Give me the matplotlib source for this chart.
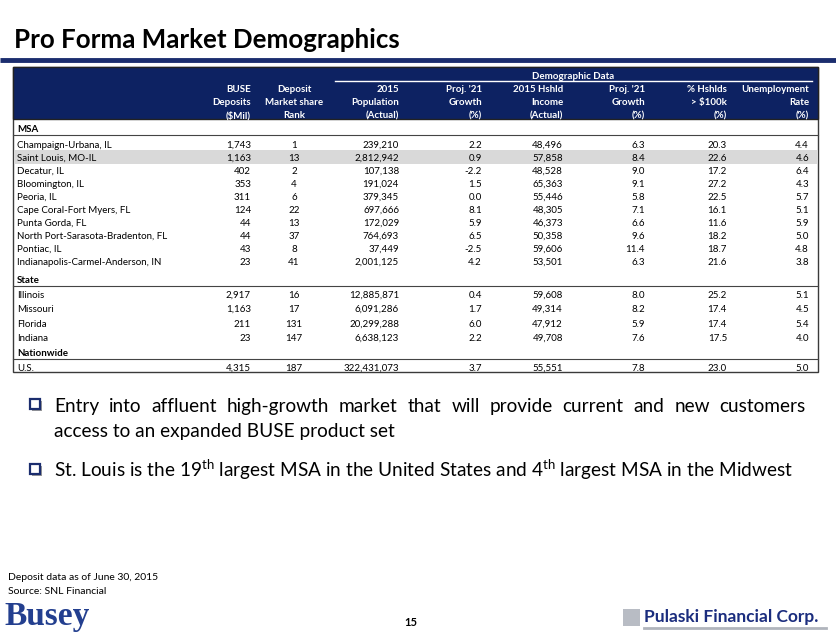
import matplotlib
matplotlib.use("Agg")
import matplotlib.pyplot as plt
from matplotlib.patches import Rectangle

plt.rcParams['font.family'] = ['Lato', 'DejaVu Sans']
plt.rcParams['mathtext.fontset'] = 'custom'
plt.rcParams['mathtext.rm'] = 'Lato'
plt.rcParams['mathtext.it'] = 'Lato:italic'
plt.rcParams['mathtext.bf'] = 'Lato:bold'

# ---- data ----
msa_names = ['Champaign-Urbana, IL', 'Saint Louis, MO-IL', 'Decatur, IL', 'Bloomington, IL',
             'Peoria, IL', 'Cape Coral-Fort Myers, FL', 'Punta Gorda, FL',
             'North Port-Sarasota-Bradenton, FL', 'Pontiac, IL', 'Indianapolis-Carmel-Anderson, IN']
msa_deposits = [1743, 1163, 402, 353, 311, 124, 44, 44, 43, 23]
msa_rank = [1, 13, 2, 4, 6, 22, 13, 37, 8, 41]
msa_pop = [239210, 2812942, 107138, 191024, 379345, 697666, 172029, 764693, 37449, 2001125]
msa_pop_growth = [2.2, 0.9, -2.2, 1.5, 0.0, 8.1, 5.9, 6.5, -2.5, 4.2]
msa_income = [48496, 57858, 48528, 65363, 55446, 48305, 46373, 50358, 59606, 53501]
msa_income_growth = [6.3, 8.4, 9.0, 9.1, 5.8, 7.1, 6.6, 9.6, 11.4, 6.3]
msa_hh100k = [20.3, 22.6, 17.2, 27.2, 22.5, 16.1, 11.6, 18.2, 18.7, 21.6]
msa_unemp = [4.4, 4.6, 6.4, 4.3, 5.7, 5.1, 5.9, 5.0, 4.8, 3.8]

state_names = ['Illinois', 'Missouri', 'Florida', 'Indiana']
state_deposits = [2917, 1163, 211, 23]
state_rank = [16, 17, 131, 147]
state_pop = [12885871, 6091286, 20299288, 6638123]
state_pop_growth = [0.4, 1.7, 6.0, 2.2]
state_income = [59608, 49314, 47912, 49708]
state_income_growth = [8.0, 8.2, 5.9, 7.6]
state_hh100k = [25.2, 17.4, 17.4, 17.5]
state_unemp = [5.1, 4.5, 5.4, 4.0]

us_names = ['U.S.']
us_deposits = [4315]
us_rank = [187]
us_pop = [322431073]
us_pop_growth = [3.7]
us_income = [55551]
us_income_growth = [7.8]
us_hh100k = [23.0]
us_unemp = [5.0]

headers = [['BUSE', 'Deposits', '($Mil)'],
           ['Deposit', 'Market share', 'Rank'],
           ['2015', 'Population', '(Actual)'],
           ["Proj. '21", 'Growth', '(%)'],
           ['2015 Hshld', 'Income', '(Actual)'],
           ["Proj. '21", 'Growth', '(%)'],
           ['% Hshlds', '> $100k', '(%)'],
           ['Unemployment', 'Rate', '(%)']]

# ---- layout ----
NAVY = '#0d2262'
col_x = [251, 294, 399, 482, 563, 645, 727, 809]
col_ha = ['right', 'center', 'right', 'right', 'right', 'right', 'right', 'right']
FS = 7.0
OFF = 4  # baseline offset from row centre (px), whole pixels keep digits aligned

fig = plt.figure(figsize=(8.36, 6.35), dpi=100)
ax = fig.add_axes([0, 0, 1, 1])
ax.set_xlim(0, 836)
ax.set_ylim(635, 0)
ax.axis('off')
renderer = fig.canvas.get_renderer()


def cell(x, y, s, ha='left', **kw):
    ax.text(x, round(y) + OFF, s, fontsize=FS, ha=ha, va='baseline', **kw)


ax.text(14, 40, 'Pro Forma Market Demographics', fontsize=18.6, fontweight='bold',
        va='center', ha='left', color='black')
ax.plot([0, 836], [60, 60], color='#1b2d6e', lw=3.5, solid_capstyle='butt')

# table frame + header
ax.add_patch(Rectangle((13, 67), 805, 305, facecolor='white', edgecolor='#3a3a3a', lw=1))
ax.add_patch(Rectangle((13, 67), 805, 52, facecolor=NAVY, edgecolor='#222222', lw=1))
cell(573, 75, 'Demographic Data', ha='center', color='white', fontweight='bold')
ax.plot([335, 812], [81, 81], color='white', lw=1)
for x, ha, lines in zip(col_x, col_ha, headers):
    for j, s in enumerate(lines):
        cell(x, 88 + j * 13, s, ha=ha, color='white', fontweight='bold')


def fmt_row(dep, rank, pop, pg, inc, ig, hh, un):
    return [f'{dep:,}', f'{rank}', f'{pop:,}', f'{pg:.1f}', f'{inc:,}', f'{ig:.1f}',
            f'{hh:.1f}', f'{un:.1f}']


def draw_section(title, y_title, names, cols, y0, step, highlight=None):
    cell(17, y_title, title, fontweight='bold')
    ax.plot([13, 818], [y_title + 7, y_title + 7], color='#444444', lw=0.8)
    for i, name in enumerate(names):
        y = y0 + i * step
        if highlight == i:
            ax.add_patch(Rectangle((14, y - 6.5), 804, 13.5, facecolor='#d9d9d9',
                                   edgecolor='none'))
        cell(17, y, name)
        vals = fmt_row(*[c[i] for c in cols])
        for x, ha, v in zip(col_x, col_ha, vals):
            cell(x, y, v, ha=ha)


draw_section('MSA', 128, msa_names,
             [msa_deposits, msa_rank, msa_pop, msa_pop_growth, msa_income,
              msa_income_growth, msa_hh100k, msa_unemp], 143.5, 13.05,
             highlight=msa_names.index('Saint Louis, MO-IL'))
draw_section('State', 279, state_names,
             [state_deposits, state_rank, state_pop, state_pop_growth, state_income,
              state_income_growth, state_hh100k, state_unemp], 294, 14.3)
draw_section('Nationwide', 352, us_names,
             [us_deposits, us_rank, us_pop, us_pop_growth, us_income,
              us_income_growth, us_hh100k, us_unemp], 367, 14)


# ---- bullets ----
BFS = 13.7
BOFF = 7


def bullet_box(y):
    ax.add_patch(Rectangle((31.5, y - 4), 10, 10, facecolor='#9a9a9a', edgecolor='none'))
    ax.add_patch(Rectangle((29.5, y - 6), 10, 10, facecolor='white', edgecolor='#1b2d6e', lw=1.6))


def justified(words, x0, x1, y, fs):
    ts = [ax.text(0, y + BOFF, w, fontsize=fs, ha='left', va='baseline') for w in words]
    widths = [t.get_window_extent(renderer).width for t in ts]
    gap = (x1 - x0 - sum(widths)) / (len(words) - 1)
    x = x0
    for t, w in zip(ts, widths):
        t.set_x(x)
        x += w + gap


bullet_box(405)
justified('Entry into affluent high-growth market that will provide current and new customers'.split(),
          54, 806, 405, BFS)
ax.text(54, 430 + BOFF, 'access to an expanded BUSE product set', fontsize=BFS, ha='left',
        va='baseline')
bullet_box(470)
ax.text(54, 470 + BOFF,
        r'St. Louis is the 19$^{\rm th}$ largest MSA in the United States and 4$^{\rm th}$ largest MSA in the Midwest',
        fontsize=BFS, ha='left', va='baseline')

# ---- footer ----
ax.text(8, 577, 'Deposit data as of June 30, 2015', fontsize=7.5, ha='left', va='center')
ax.text(8, 591, 'Source: SNL Financial', fontsize=7.5, ha='left', va='center')
ax.text(411, 622, '15', fontsize=8, fontweight='bold', ha='center', va='center')
ax.text(4, 617, 'Busey', fontsize=24, fontweight='bold', family='Liberation Serif',
        color='#233f8f', ha='left', va='center')
ax.add_patch(Rectangle((623, 609), 17, 17, facecolor='#b8bcc4', edgecolor='none'))
ax.text(644, 617, 'Pulaski Financial Corp.', fontsize=12.5, fontweight='bold', color='#1b2d7e',
        ha='left', va='center')
ax.plot([644, 826], [628, 628], color='#b0b4bc', lw=2)

fig.savefig('out.png', dpi=100)
